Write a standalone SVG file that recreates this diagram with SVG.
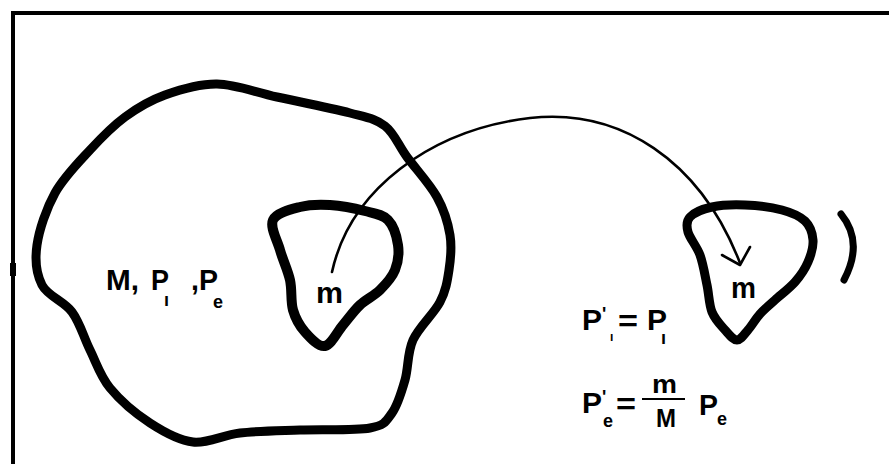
<svg xmlns="http://www.w3.org/2000/svg" width="889" height="464" viewBox="0 0 889 464">
<style>
.blob{fill:none;stroke:#000;stroke-linejoin:round;stroke-linecap:round}
.t{font-family:"Liberation Sans",Arial,sans-serif;fill:#000;font-weight:bold}
.big{font-size:30px}
.sub{font-size:18px}
.conn{fill:none;stroke:#000;stroke-width:2.6;stroke-linecap:round;stroke-linejoin:round}
</style>
<rect width="889" height="464" fill="#fff"/>
<g id="frame">
<path d="M13,464 V13 H889" fill="none" stroke="#000" stroke-width="4"/>
<rect x="10" y="263" width="6" height="13" fill="#000"/>
</g>
<g id="body-M">
<path class="blob" stroke-width="9" d="M217,84 C235.7,84.3 254.8,92.2 277,97 S332,108.2 350,113 S375.5,118.7 385,126 S398.3,145.2 407,157 S429.8,184 437,197 S448,222.8 450,235 S450.7,258.8 449,270 S446,290.3 440,302 S418.8,327 413,340 S408.5,367.8 405,380 S397.8,405 392,413 S385.3,425.2 370,428 S321.7,429.2 300,430 S257.8,431 240,433 S208,443.7 193,442 S163.8,432 150,423 S120,400.2 110,388 S96.3,362.7 90,350 S80,322.8 72,312 S47.8,296.2 42,285 S34.8,260.3 37,245 S46.2,208.8 55,193 S78.3,162.7 90,150 S112.5,126.2 125,117 S149.7,100.5 165,95 S198.3,83.7 217,84 Z"/>
<text class="t big" x="106" y="290" textLength="33" lengthAdjust="spacingAndGlyphs">M,</text>
<text class="t big" x="151" y="290" textLength="18" lengthAdjust="spacingAndGlyphs">P</text>
<text class="t sub" x="164" y="306">ı</text>
<text class="t big" x="191" y="290" textLength="27" lengthAdjust="spacingAndGlyphs">,P</text>
<text class="t sub" x="213" y="308">e</text>
</g>
<g id="part-m">
<path class="blob" stroke-width="10" d="M273,220 C276.3,212.8 290.5,209.5 300,207 S319.2,204.3 330,205 S355.3,208.5 365,211 S382.5,214.3 388,220 S396.8,236.7 398,245 S398,262.5 395,270 S385.8,284.2 380,290 S366.2,299.2 360,305 S348.8,318.2 343,325 S331.3,344.8 325,346 S310.3,338 305,332 S295.5,318.7 293,310 S292.2,290 290,280 S282.8,260 280,250 S269.7,227.2 273,220 Z"/>
<text class="t" style="font-size:30px" x="316" y="303" textLength="27" lengthAdjust="spacingAndGlyphs">m</text>
</g>
<g id="part-m-moved">
<path class="blob" stroke-width="9" d="M690,217 C694,212.8 702.8,209 712,207 S733.3,204.5 745,205 S772,207.3 782,210 S799.8,216 805,221 S812.5,233.2 813,240 S811,255 808,262 S800.5,275.7 795,282 S780.8,294.7 775,300 S764.5,309 760,314 S751.8,325.7 748,330 S740.8,340 737,340 S729.2,334.7 725,330 S715,319.5 712,312 S709,294.5 707,285 S703.2,263.8 700,255 S689.7,238.3 688,232 S686,221.2 690,217 Z"/>
<text class="t" style="font-size:30px" x="731" y="298" textLength="25" lengthAdjust="spacingAndGlyphs">m</text>
</g>
<g id="bracket">
<path d="M841,214 Q864,242 844,280" fill="none" stroke="#000" stroke-width="7" stroke-linecap="round"/>
</g>
<g id="connectors">
<path class="conn" d="M332,272 C350,190 430,130 530,118 C620,108 700,160 740,263"/>
<polyline class="conn" points="722,255 740,265 750,247"/>
</g>
<g id="equations">
<text class="t big" x="582" y="330" textLength="20" lengthAdjust="spacingAndGlyphs">P</text>
<text class="t sub" x="602" y="320">'</text>
<text class="t" style="font-size:12px" x="610" y="341">ı</text>
<text class="t big" x="618" y="331" textLength="20" lengthAdjust="spacingAndGlyphs">=</text>
<text class="t big" x="647" y="330" textLength="20" lengthAdjust="spacingAndGlyphs">P</text>
<text class="t sub" x="661" y="344">ı</text>
<text class="t big" x="582" y="413" textLength="20" lengthAdjust="spacingAndGlyphs">P</text>
<text class="t sub" x="602" y="403">'</text>
<text class="t sub" x="603" y="427">e</text>
<text class="t big" x="616" y="414" textLength="20" lengthAdjust="spacingAndGlyphs">=</text>
<text class="t" style="font-size:26px" x="652" y="393" textLength="25" lengthAdjust="spacingAndGlyphs">m</text>
<line x1="642" y1="399" x2="685" y2="399" stroke="#000" stroke-width="2"/>
<text class="t" style="font-size:26px" x="656" y="427" textLength="20" lengthAdjust="spacingAndGlyphs">M</text>
<text class="t big" x="699" y="415" textLength="19" lengthAdjust="spacingAndGlyphs">P</text>
<text class="t sub" x="717" y="425">e</text>
</g>
</svg>
